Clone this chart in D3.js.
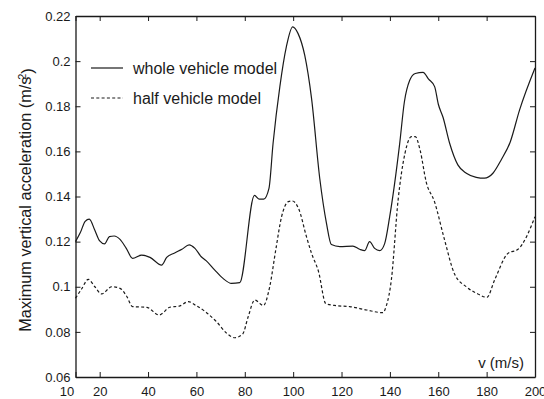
<!DOCTYPE html>
<html>
<head>
<meta charset="utf-8">
<script src="https://cdn.jsdelivr.net/npm/d3@7/dist/d3.min.js"></script>
<style>
  html, body { margin: 0; padding: 0; background: #fff; }
  svg { display: block; font-family: "Liberation Sans", Arial, sans-serif; }
</style>
</head>
<body>
<svg id="chart" width="544" height="399"></svg>
<script>
// Speed (m/s) at each sample of the whole-vehicle curve
const wholeSpeed = [10, 12, 14, 15.7, 18, 20, 22, 24, 26, 28.4, 31, 33.6, 37.3, 40.8, 45.6, 47.7, 51, 54, 57, 59.4,
  62, 64, 67.6, 71, 74.5, 77.9, 84, 86, 87.8, 90, 91.7, 94.5, 97.2, 99.8, 102, 104.8, 107.6, 111, 113.8, 115.8,
  119.3, 124.7, 127.5, 129.6, 131.6, 133.7, 135.8, 137.8, 139.9, 144, 146, 148.2, 150.5, 153.7, 156, 158.5, 160,
  162, 164.7, 168.1, 171.6, 175.7, 179.1, 182.6, 186, 189.8, 193.6, 200];
// Maximum vertical acceleration (m/s^2), whole vehicle model
const wholeAccel = [0.120, 0.124, 0.129, 0.130, 0.125, 0.1203, 0.119, 0.1222, 0.1225, 0.121, 0.117, 0.1126, 0.114, 0.113, 0.1096, 0.113, 0.115, 0.1166, 0.1186, 0.117,
  0.1133, 0.1116, 0.1074, 0.1037, 0.1015, 0.1018, 0.1405, 0.1388, 0.1388, 0.1436, 0.1636, 0.1887, 0.2064, 0.2152, 0.2123, 0.2025, 0.1835, 0.148, 0.128, 0.1187,
  0.1178, 0.118, 0.1166, 0.116, 0.120, 0.117, 0.116, 0.119, 0.131, 0.163, 0.182, 0.1915, 0.1945, 0.195, 0.192, 0.1887, 0.181,
  0.175, 0.1636, 0.154, 0.1503, 0.1485, 0.1481, 0.1503, 0.1562, 0.1643, 0.1783, 0.197];

// Speed (m/s) at each sample of the half-vehicle curve
const halfSpeed = [10, 12.5, 15.3, 18, 20.8, 25, 28.4, 31.1, 33.6, 39.4, 44.6, 49, 53.2, 56.6, 60.1, 64.2, 68.3, 72.5, 75.9, 79.1,
  81.4, 84.1, 87.7, 90.3, 92.8, 95.2, 98, 99.7, 102.3, 105.5, 107.6, 110.5, 113.5, 117.9, 123.4, 130.3, 137.1, 138.5, 140.6, 143.4,
  146.2, 148.9, 150.5, 152.5, 155, 158.5, 162.3, 166.8, 171.6, 176.4, 180.1, 183.3, 188.8, 193, 200];
// Maximum vertical acceleration (m/s^2), half vehicle model
const halfAccel = [0.0949, 0.099, 0.1033, 0.100, 0.0968, 0.100, 0.0993, 0.0959, 0.0912, 0.0909, 0.0875, 0.0909, 0.0915, 0.0934, 0.0915, 0.0885, 0.0845, 0.0794, 0.0774, 0.079,
  0.0867, 0.0941, 0.0917, 0.100, 0.1163, 0.131, 0.1377, 0.138, 0.1345, 0.1222, 0.1148, 0.1067, 0.0925, 0.0916, 0.0912, 0.0897, 0.0885, 0.0915, 0.103, 0.1385,
  0.159, 0.1665, 0.1665, 0.1605, 0.1465, 0.1375, 0.122, 0.1055, 0.100, 0.0968, 0.0953, 0.103, 0.1148, 0.1166, 0.131];

const xTicks = [10, 20, 40, 60, 80, 100, 120, 140, 160, 180, 200];
const yTicks = [0.06, 0.08, 0.10, 0.12, 0.14, 0.16, 0.18, 0.20, 0.22];

const seriesNames = ["whole vehicle model", "half vehicle model"];

const svg = d3.select("#chart");
const plotLeft = 75.5, plotRight = 535, plotTop = 16, plotBottom = 377;

const x = d3.scaleLinear().domain([10, 200]).range([plotLeft, plotRight]);
const y = d3.scaleLinear().domain([0.06, 0.22]).range([plotBottom, plotTop]);

const ink = "#1a1a1a";
const fmt = d => String(+d.toFixed(2));

// Box axes with inward ticks (labels only on bottom and left)
const gx = svg.append("g").attr("transform", `translate(0,${plotBottom})`)
  .call(d3.axisBottom(x).tickValues(xTicks).tickSizeInner(-5).tickSizeOuter(0).tickPadding(9.3).tickFormat(d3.format("d")));
const gxTop = svg.append("g").attr("transform", `translate(0,${plotTop})`)
  .call(d3.axisTop(x).tickValues(xTicks).tickSizeInner(-5).tickSizeOuter(0).tickFormat(""));
const gy = svg.append("g").attr("transform", `translate(${plotLeft},0)`)
  .call(d3.axisLeft(y).tickValues(yTicks).tickSizeInner(-5).tickSizeOuter(0).tickPadding(5).tickFormat(fmt));
const gyRight = svg.append("g").attr("transform", `translate(${plotRight},0)`)
  .call(d3.axisRight(y).tickValues(yTicks).tickSizeInner(-5).tickSizeOuter(0).tickFormat(""));

[gx, gxTop, gy, gyRight].forEach(g => {
  g.select(".domain").attr("stroke", ink).attr("stroke-width", 1.3);
  g.selectAll(".tick line").attr("stroke", ink).attr("stroke-width", 1);
  g.selectAll(".tick text").attr("fill", ink).style("font-size", "13px")
    .style("font-family", "'Liberation Sans', Arial, sans-serif");
});
// The first speed label sits left of the corner so it clears the "20"
gx.selectAll(".tick text").filter(d => d === 10).attr("dx", -9);

// Curves
const line = d3.line().x(d => x(d[0])).y(d => y(d[1])).curve(d3.curveMonotoneX);
const wholeData = wholeSpeed.map((v, i) => [v, wholeAccel[i]]);
const halfData = halfSpeed.map((v, i) => [v, halfAccel[i]]);

svg.append("path").datum(wholeData).attr("d", line)
  .attr("fill", "none").attr("stroke", ink).attr("stroke-width", 1.2);
svg.append("path").datum(halfData).attr("d", line)
  .attr("fill", "none").attr("stroke", ink).attr("stroke-width", 1.2)
  .attr("stroke-dasharray", "3,2.3");

// Legend
const legend = svg.append("g");
const legendRows = [{ name: seriesNames[0], dash: null, y: 68 }, { name: seriesNames[1], dash: "3,2.3", y: 98 }];
legendRows.forEach(r => {
  legend.append("line").attr("x1", 91).attr("x2", 123).attr("y1", r.y).attr("y2", r.y)
    .attr("stroke", ink).attr("stroke-width", 1.2).attr("stroke-dasharray", r.dash);
  legend.append("text").attr("x", 133).attr("y", r.y + 5.5).text(r.name)
    .attr("fill", ink).style("font-size", "16px");
});

// Axis titles
svg.append("text").attr("x", 524).attr("y", 368).attr("text-anchor", "end")
  .attr("fill", ink).style("font-size", "15px").text("v (m/s)");

const yTitle = svg.append("text")
  .attr("transform", `translate(31,200) rotate(-90)`)
  .attr("text-anchor", "middle").attr("fill", ink).style("font-size", "16.3px");
yTitle.append("tspan").text("Maximum vertical acceleration (m/s");
yTitle.append("tspan").attr("dy", "-0.45em").attr("dx", "-0.3em").style("font-size", "11px").text("2");
yTitle.append("tspan").attr("dy", "0.45em").text(")");
</script>
</body>
</html>
